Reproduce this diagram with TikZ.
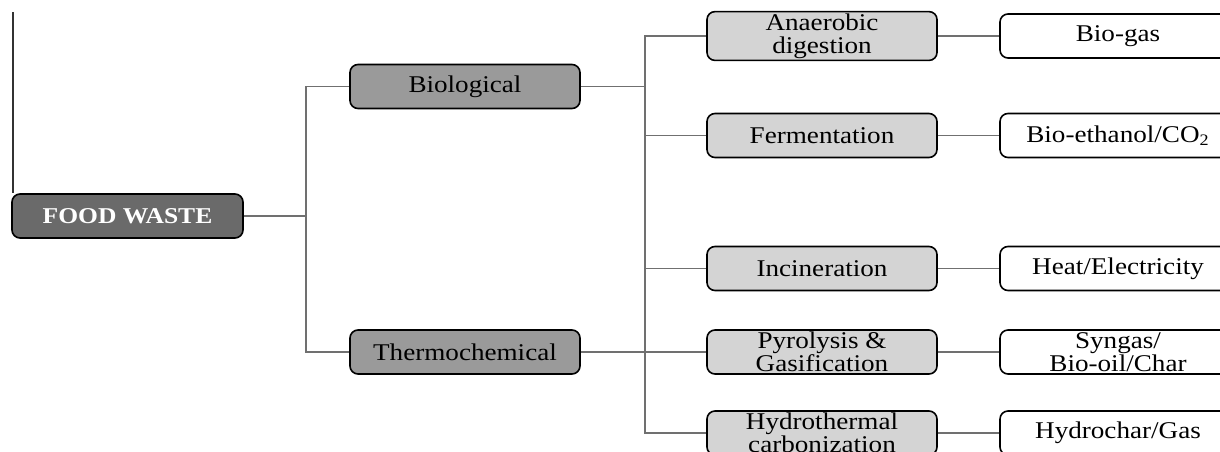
\documentclass[tikz,border=0pt]{standalone}
\usepackage{fontspec}
\setmainfont{Liberation Serif}[FakeStretch=1.13]
\begin{document}
\begin{tikzpicture}[x=0.5pt,y=-0.5pt,
  base/.style={draw=black, line width=0.8pt, rounded corners=4pt, align=center,
    minimum height=22pt, inner sep=1pt, font=\fontsize{12}{11.5}\selectfont},
  rootbox/.style={base, fill=rootgray, minimum width=115.5pt, text=white,
    font=\fontsize{11.3}{11}\selectfont\bfseries},
  catbox/.style={base, fill=catgray, minimum width=115pt},
  procbox/.style={base, fill=procgray, minimum width=115pt},
  outbox/.style={base, fill=white, minimum width=118pt},
  conn/.style={draw=linegray, line width=0.55pt}]
\definecolor{rootgray}{HTML}{6A6A6A}
\definecolor{catgray}{HTML}{9A9A9A}
\definecolor{procgray}{HTML}{D4D4D4}
\definecolor{linegray}{HTML}{707070}
\clip (0,0) rectangle (1220,451);
\fill[white] (0,0) rectangle (1220,451);
% trunks
\coordinate (t1) at (306,0);
\coordinate (t2) at (645,0);
\coordinate (top) at (13,12);
% nodes
\node[rootbox] (fw) at (127.5,216) {FOOD WASTE};
\node[catbox] (bio) at (465,86.5) {Biological};
\node[catbox] (thermo) at (465,352) {Thermochemical};
\node[procbox] (ana) at (822,36) {Anaerobic\\digestion};
\node[procbox] (fer) at (822,135.5) {Fermentation};
\node[procbox] (inc) at (822,268.5) {Incineration};
\node[procbox] (pyr) at (822,352) {Pyrolysis \&\\Gasification};
\node[procbox] (hyd) at (822,433) {Hydrothermal\\carbonization};
\node[outbox] (bg) at (1118,36) {Bio-gas};
\node[outbox] (be) at (1118,135.5) {Bio-ethanol/CO\textsubscript{2}};
\node[outbox] (he) at (1118,268.5) {Heat/Electricity};
\node[outbox] (sg) at (1118,352) {Syngas/\\Bio-oil/Char};
\node[outbox] (hc) at (1118,433) {Hydrochar/Gas};
% connectors
\draw[draw=black!80, line width=0.6pt] (top) -- (top |- fw.north);
\draw[conn] (fw.east) -- (fw.east -| t1);
\draw[conn] (bio.west) -- (bio.west -| t1) |- (thermo.west);
\draw[conn] (bio.east) -- (bio.east -| t2);
\draw[conn] (thermo.east) -- (pyr.west);
\draw[conn] (ana.west) -- (ana.west -| t2) |- (hyd.west);
\draw[conn] (fer.west) -- (fer.west -| t2);
\draw[conn] (inc.west) -- (inc.west -| t2);
\draw[conn] (ana.east) -- (bg.west);
\draw[conn] (fer.east) -- (be.west);
\draw[conn] (inc.east) -- (he.west);
\draw[conn] (pyr.east) -- (sg.west);
\draw[conn] (hyd.east) -- (hc.west);
\end{tikzpicture}
\end{document}
